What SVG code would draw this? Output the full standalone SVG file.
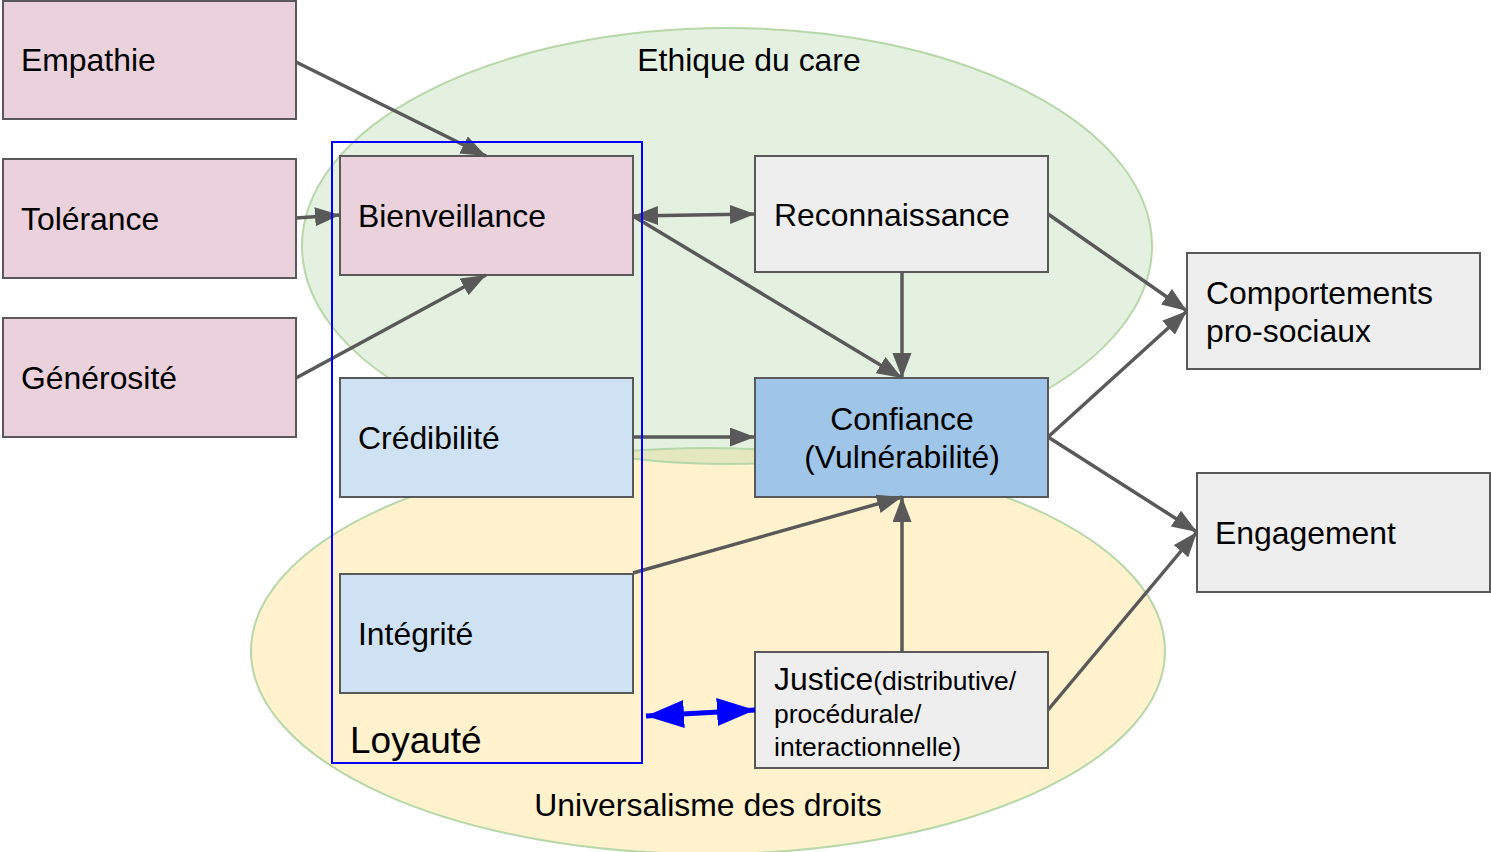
<svg xmlns="http://www.w3.org/2000/svg" width="1491" height="852" viewBox="0 0 1491 852">
  <style>
    .t { font-family: "Liberation Sans", Arial, sans-serif; font-size: 31.9px; fill: #000; }
    .sm { font-size: 26.5px; }
    .box { stroke: #595959; stroke-width: 2; }
    .pink { fill: #ead1dc; }
    .lblue { fill: #cfe2f3; }
    .mblue { fill: #9fc5e8; }
    .grey { fill: #eeeeee; }
    .edge { fill: none; stroke: #595959; stroke-width: 3.5; }
    .bedge { fill: none; stroke: #0000ff; stroke-width: 5; }
  </style>
  <defs>
    <marker id="arr" markerUnits="userSpaceOnUse" markerWidth="27" markerHeight="20" refX="25" refY="9.5" orient="auto-start-reverse">
      <path d="M0,0 L25,9.5 L0,19 z" fill="#595959"/>
    </marker>
    <marker id="barr" markerUnits="userSpaceOnUse" markerWidth="40" markerHeight="30" refX="38" refY="14" orient="auto-start-reverse">
      <path d="M0,0 L38,14 L0,28 z" fill="#0000ff"/>
    </marker>
  </defs>

  <rect x="0" y="0" width="1491" height="852" fill="#ffffff"/>

  <!-- background areas -->
  <g id="universalisme">
    <ellipse cx="708" cy="651" rx="457" ry="203" fill="#fff2cc" stroke="#b6d7a8" stroke-width="2"/>
    <text class="t" x="708" y="816" text-anchor="middle">Universalisme des droits</text>
  </g>
  <g id="ethique-care">
    <ellipse cx="727" cy="246" rx="425" ry="218" fill="#b6d7a8" fill-opacity="0.356" stroke="#b6d7a8" stroke-width="2"/>
    <text class="t" x="749" y="71" text-anchor="middle">Ethique du care</text>
  </g>

  <!-- nodes -->
  <g id="empathie">
    <rect class="box pink" x="3" y="1" width="293" height="118"/>
    <text class="t" x="21" y="71">Empathie</text>
  </g>
  <g id="tolerance">
    <rect class="box pink" x="3" y="159" width="293" height="119"/>
    <text class="t" x="21" y="230">Tolérance</text>
  </g>
  <g id="generosite">
    <rect class="box pink" x="3" y="318" width="293" height="119"/>
    <text class="t" x="21" y="389">Générosité</text>
  </g>
  <g id="bienveillance">
    <rect class="box pink" x="340" y="156" width="293" height="119"/>
    <text class="t" x="358" y="227">Bienveillance</text>
  </g>
  <g id="credibilite">
    <rect class="box lblue" x="340" y="378" width="293" height="119"/>
    <text class="t" x="358" y="449">Crédibilité</text>
  </g>
  <g id="integrite">
    <rect class="box lblue" x="340" y="574" width="293" height="119"/>
    <text class="t" x="358" y="645">Intégrité</text>
  </g>
  <g id="reconnaissance">
    <rect class="box grey" x="755" y="156" width="293" height="116"/>
    <text class="t" x="774" y="226">Reconnaissance</text>
  </g>
  <g id="confiance">
    <rect class="box mblue" x="755" y="378" width="293" height="119"/>
    <text class="t" x="902" y="430" text-anchor="middle">Confiance</text>
    <text class="t" x="902" y="468" text-anchor="middle">(Vulnérabilité)</text>
  </g>
  <g id="justice">
    <rect class="box grey" x="755" y="652" width="293" height="116"/>
    <text class="t" x="774" y="690">Justice<tspan class="sm">(distributive/</tspan></text>
    <text class="t sm" x="774" y="723">procédurale/</text>
    <text class="t sm" x="774" y="756">interactionnelle)</text>
  </g>
  <g id="comportements">
    <rect class="box grey" x="1187" y="253" width="293" height="116"/>
    <text class="t" x="1206" y="304">Comportements</text>
    <text class="t" x="1206" y="342">pro-sociaux</text>
  </g>
  <g id="engagement">
    <rect class="box grey" x="1197" y="473" width="293" height="119"/>
    <text class="t" x="1215" y="544">Engagement</text>
  </g>

  <!-- connectors -->
  <g id="connectors">
    <line class="edge" x1="296" y1="62" x2="486" y2="156" marker-end="url(#arr)"/>
    <line class="edge" x1="296" y1="218" x2="340" y2="215" marker-end="url(#arr)"/>
    <line class="edge" x1="296" y1="378" x2="486" y2="275" marker-end="url(#arr)"/>
    <line class="edge" x1="633" y1="216" x2="755" y2="214" marker-start="url(#arr)" marker-end="url(#arr)"/>
    <line class="edge" x1="633" y1="216" x2="902" y2="378" marker-end="url(#arr)"/>
    <line class="edge" x1="902" y1="272" x2="902" y2="378" marker-end="url(#arr)"/>
    <line class="edge" x1="633" y1="437" x2="755" y2="437" marker-end="url(#arr)"/>
    <line class="edge" x1="633" y1="573" x2="902" y2="497" marker-end="url(#arr)"/>
    <line class="edge" x1="902" y1="652" x2="902" y2="497" marker-end="url(#arr)"/>
    <line class="edge" x1="1048" y1="214" x2="1187" y2="311" marker-end="url(#arr)"/>
    <line class="edge" x1="1048" y1="437" x2="1187" y2="311" marker-end="url(#arr)"/>
    <line class="edge" x1="1048" y1="437" x2="1197" y2="532" marker-end="url(#arr)"/>
    <line class="edge" x1="1048" y1="710" x2="1197" y2="532" marker-end="url(#arr)"/>
    <line class="bedge" x1="646" y1="716" x2="755" y2="710" marker-start="url(#barr)" marker-end="url(#barr)"/>
  </g>

  <!-- Loyauté grouping frame -->
  <g id="loyaute">
    <rect x="332" y="142" width="310" height="621" fill="none" stroke="#0000ff" stroke-width="2"/>
    <text class="t" x="350" y="753" style="font-size:37px">Loyauté</text>
  </g>
</svg>
